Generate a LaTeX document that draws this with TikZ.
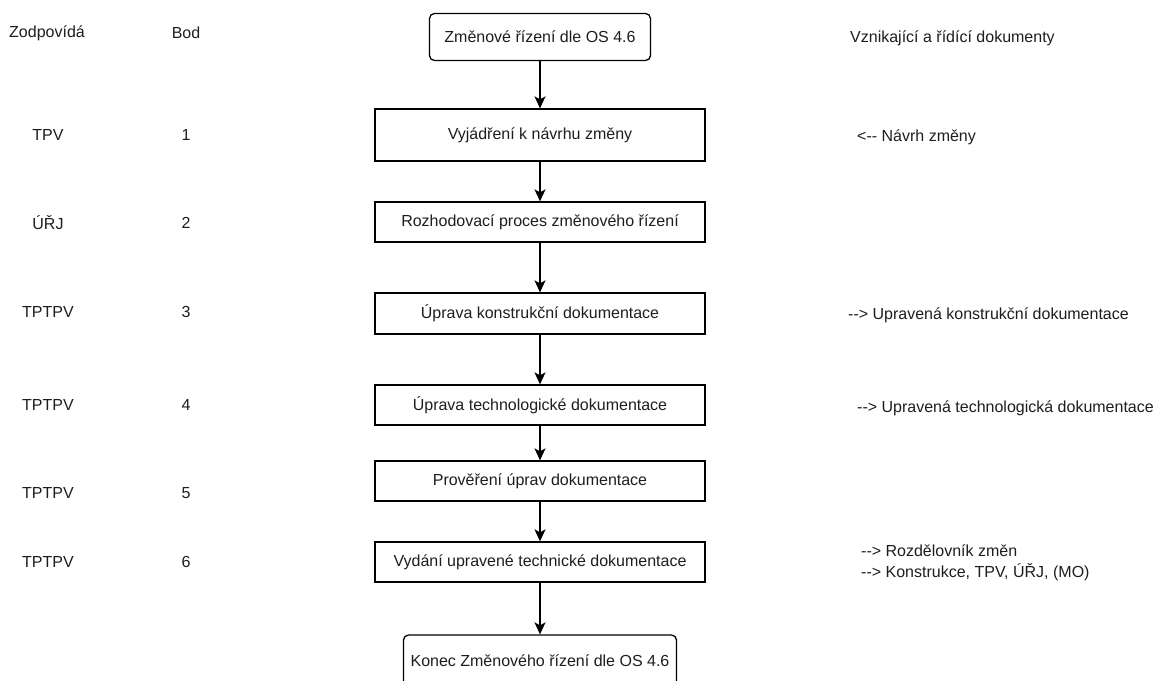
\documentclass[tikz,border=0pt]{standalone}
\usepackage{fontspec}
\newfontfamily\dfont{Liberation Sans}
\usetikzlibrary{arrows.meta}
\definecolor{txt}{HTML}{1E1E1E}
\begin{document}
\begin{tikzpicture}[x=1pt,y=-1pt,
  every node/.style={font=\dfont\fontsize{16}{21}\selectfont, text=txt},
  stepbox/.style={draw=black, line width=1.3pt, minimum width=330pt, minimum height=40pt, inner sep=0pt},
  termbox/.style={draw=black, line width=1.3pt, rounded corners=5pt, inner sep=0pt},
  flow/.style={draw=black, line width=1.3pt, -{Stealth[length=12pt,width=11pt,inset=3pt]}},
  col/.style={inner sep=0pt, anchor=center},
  doc/.style={inner sep=0pt, anchor=west, align=left}]
\clip (0,0) rectangle (1158,680);
\fill[white] (0,0) rectangle (1158,680);

% flow of the change procedure
\node[termbox, minimum width=221pt, minimum height=47pt] (start) at (540,37) {Změnové řízení dle OS 4.6};
\node[stepbox, minimum height=52pt] (s1) at (540,135) {Vyjádření k návrhu změny};
\node[stepbox] (s2) at (540,222) {Rozhodovací proces změnového řízení};
\node[stepbox, minimum height=41pt] (s3) at (540,313.5) {Úprava konstrukční dokumentace};
\node[stepbox] (s4) at (540,405) {Úprava technologické dokumentace};
\node[stepbox] (s5) at (540,481) {Prověření úprav dokumentace};
\node[stepbox] (s6) at (540,562) {Vydání upravené technické dokumentace};
\node[termbox, minimum width=273pt, minimum height=52pt] (stop) at (540,661) {Konec Změnového řízení dle OS 4.6};

\draw[flow] (start) -- (s1);
\draw[flow] (s1) -- (s2);
\draw[flow] (s2) -- (s3);
\draw[flow] (s3) -- (s4);
\draw[flow] (s4) -- (s5);
\draw[flow] (s5) -- (s6);
\draw[flow] (s6) -- (stop);

% responsibility and step number columns
\node[col] (hresp) at (47,33) {Zodpovídá};
\node[col] (hstep) at (186,33) {Bod};
\node[col] (r1) at (48,135) {TPV};
\node[col] (n1) at (186,135) {1};
\node[col] (r2) at (48,223) {ÚŘJ};
\node[col] (n2) at (186,223) {2};
\node[col] (r3) at (48,312) {TPTPV};
\node[col] (n3) at (186,312) {3};
\node[col] (r4) at (48,405) {TPTPV};
\node[col] (n4) at (186,405) {4};
\node[col] (r5) at (48,493) {TPTPV};
\node[col] (n5) at (186,493) {5};
\node[col] (r6) at (48,562) {TPTPV};
\node[col] (n6) at (186,562) {6};

% documents column
\node[doc] (hdoc) at (850,38) {Vznikající a řídící dokumenty};
\node[doc] (d1) at (857,137) {<-- Návrh změny};
\node[doc] (d3) at (848,315) {--> Upravená konstrukční dokumentace};
\node[doc] (d4) at (857,408) {--> Upravená technologická dokumentace};
\node[doc] (d6) at (861,562.5) {--> Rozdělovník změn\\--> Konstrukce, TPV, ÚŘJ, (MO)};
\end{tikzpicture}
\end{document}
